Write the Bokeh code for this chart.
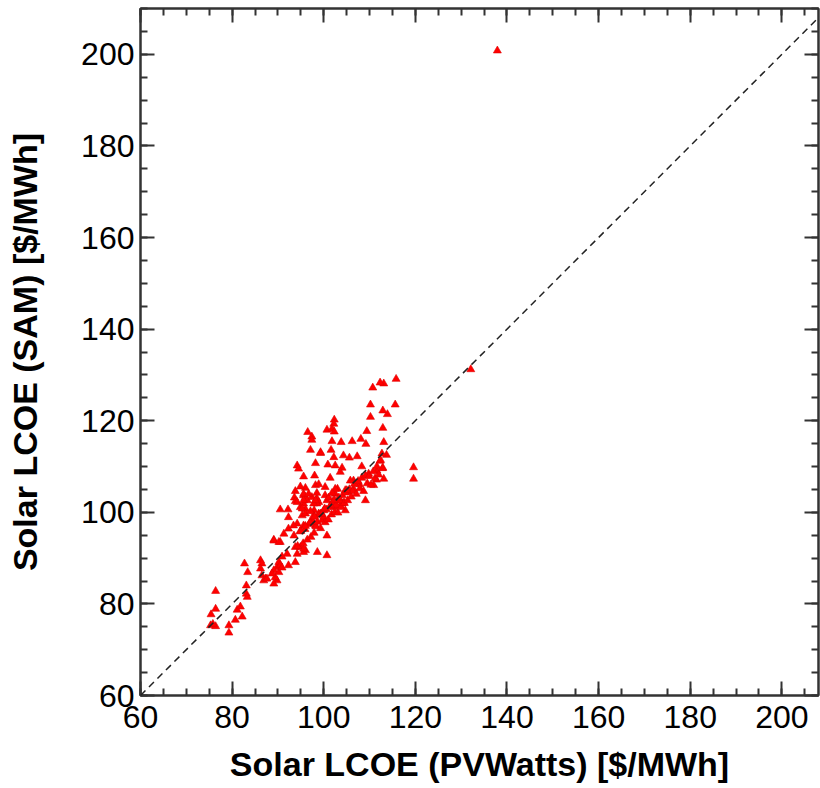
from bokeh.plotting import figure
from bokeh.models import Range1d, LinearAxis, FixedTicker, Slope
from bokeh.embed import file_html
from bokeh.resources import INLINE

# Solar LCOE estimates [$/MWh]: PVWatts (x) vs SAM (y)
pvwatts_lcoe = [
    115.8, 113.1, 112.3, 110.7, 115.6, 110.2, 112.9, 113.9, 110.2, 102.3,
    102.2, 100.7, 101.8, 96.5, 102.3, 109.4, 112.9, 97.4, 97.4, 101.8,
    103.8, 106.2, 108.1, 109.2, 113.1, 97.1, 99.3, 101.6, 104.3, 105.6,
    107.3, 102.2, 113.7, 112.7, 98.2, 100.9, 102.5, 104.0, 108.3, 112.3,
    112.9, 119.6, 119.6, 94.2, 94.5, 95.6, 98.0, 101.4, 103.6, 109.8,
    111.6, 113.1, 111.5, 110.9, 96.0, 94.9, 93.8, 98.2, 98.9, 100.3,
    106.5, 107.8, 105.8, 103.0, 105.1, 95.6, 93.6, 93.8, 96.0, 96.4,
    97.4, 98.5, 98.9, 100.3, 100.7, 102.5, 109.1, 98.5, 102.2, 104.0,
    90.5, 92.2, 94.9, 96.0, 94.2, 95.6, 97.8, 97.9, 92.3, 95.3,
    97.8, 99.3, 92.3, 94.2, 95.6, 91.3, 89.1, 90.5, 93.8, 94.9,
    96.0, 94.2, 95.6, 98.6, 100.7, 100.7, 92.0, 90.9, 93.8, 92.3,
    89.8, 89.1, 90.2, 86.2, 86.5, 86.2, 82.7, 83.4, 86.5, 86.9,
    87.3, 89.8, 83.1, 83.1, 83.3, 76.4, 76.4, 81.1, 81.8, 75.4,
    80.7, 82.2, 75.3, 76.4, 75.8, 79.3, 79.3, 87.6, 89.4, 90.2,
    88.7, 89.1, 89.1, 90.2, 90.5, 90.9, 95.6, 104.7, 106.5, 104.4,
    103.6, 104.7, 99.3, 102.5, 95.6, 96.7, 98.5, 101.1, 101.8, 95.6,
    98.2, 95.3, 96.0, 97.1, 98.9, 100.0, 93.4, 97.1, 98.2,
    93.5, 94.3, 94.8, 95.5, 95.9, 96.4, 96.8, 97.2, 97.6, 97.9,
    98.3, 98.6, 99.0, 99.3, 99.7, 100.0, 100.3, 100.6, 101.0, 101.3,
    101.7, 102.0, 102.4, 102.7, 103.1, 103.4, 103.8, 104.1, 104.5, 104.8,
    105.2, 105.6, 106.0, 106.3, 106.7, 107.1, 107.5, 107.9, 108.3, 108.7,
    109.1, 109.5, 109.9, 110.3, 110.8, 111.2, 111.6, 112.0, 112.4, 112.8,
    97.0, 99.5, 101.5, 103.3, 105.0, 95.0, 96.0, 98.0, 100.2, 102.3,
    137.9, 132.1,
]
sam_lcoe = [
    129.1, 128.1, 128.3, 127.2, 123.5, 123.5, 122.2, 121.4, 120.8, 120.2,
    119.3, 118.0, 118.2, 117.5, 117.6, 117.7, 118.4, 116.5, 115.8, 115.5,
    115.3, 115.5, 116.0, 114.9, 115.3, 113.6, 112.9, 113.6, 112.4, 111.9,
    112.2, 112.0, 112.5, 112.8, 110.7, 110.4, 110.2, 109.7, 110.0, 111.2,
    109.7, 109.8, 107.3, 110.2, 109.5, 107.8, 108.0, 107.5, 108.8, 108.4,
    109.1, 107.3, 107.1, 105.9, 105.3, 105.6, 104.6, 105.9, 106.1, 105.5,
    106.9, 106.1, 106.9, 105.1, 104.6, 103.7, 103.2, 102.4, 103.3, 102.6,
    103.3, 103.0, 102.2, 103.7, 102.6, 104.0, 102.6, 101.9, 101.1, 101.9,
    100.6, 100.6, 101.1, 100.7, 102.2, 101.9, 101.9, 100.4, 98.9, 99.3,
    99.3, 99.7, 96.4, 97.5, 97.1, 95.3, 94.0, 93.5, 92.4, 92.4,
    91.7, 90.9, 91.3, 91.3, 90.6, 94.9, 90.9, 90.3, 89.1, 88.4,
    88.0, 87.3, 89.1, 89.5, 88.8, 87.7, 88.8, 86.9, 86.2, 85.1,
    85.5, 85.1, 84.0, 82.2, 81.5, 82.8, 78.9, 78.7, 79.4, 77.7,
    76.5, 77.2, 75.3, 75.1, 75.6, 75.3, 73.7, 85.5, 85.8, 86.9,
    86.6, 84.4, 93.8, 93.5, 88.4, 87.9, 92.0, 104.8, 105.1, 102.1,
    101.4, 100.4, 113.1, 105.1, 104.0, 104.0, 104.2, 103.2, 104.2, 102.6,
    102.6, 100.8, 99.7, 100.2, 99.7, 100.4, 97.1, 97.8, 97.1,
    94.9, 92.6, 95.8, 93.2, 96.3, 94.0, 97.4, 94.6, 98.1, 95.5,
    96.9, 97.9, 99.4, 96.5, 98.3, 99.0, 97.8, 100.6, 98.4, 101.2,
    99.5, 102.3, 100.0, 101.6, 99.9, 102.5, 101.1, 103.7, 102.0, 104.3,
    102.6, 105.0, 103.4, 104.6, 106.2, 104.0, 106.8, 105.2, 107.5, 104.6,
    108.0, 106.3, 107.9, 106.0, 108.9, 107.4, 110.0, 108.2, 111.4, 109.6,
    97.8, 99.6, 101.5, 103.2, 104.8, 95.9, 97.0, 99.0, 100.8, 102.7,
    200.8, 131.2,
]

major_ticks = [60, 80, 100, 120, 140, 160, 180, 200]
minor_ticks = list(range(60, 211, 5))
x_label = "Solar LCOE (PVWatts) [$/MWh]"
y_label = "Solar LCOE (SAM) [$/MWh]"

FONT = "Liberation Sans"
AX_COLOR = "#333333"

p = figure(frame_width=678, frame_height=687,
           x_range=Range1d(60, 208), y_range=Range1d(60, 210),
           output_backend="svg", toolbar_location=None,
           x_axis_location=None, y_axis_location=None,
           min_border_left=140, min_border_right=2,
           min_border_top=8, min_border_bottom=93)
p.xgrid.visible = False
p.ygrid.visible = False
p.outline_line_color = AX_COLOR
p.outline_line_width = 2
p.background_fill_color = "white"
p.border_fill_color = "white"


def style(ax, labelled):
    ax.ticker = FixedTicker(ticks=major_ticks, minor_ticks=minor_ticks)
    ax.major_tick_in = 14
    ax.major_tick_out = 0
    ax.minor_tick_in = 7
    ax.minor_tick_out = 0
    ax.axis_line_color = AX_COLOR
    ax.axis_line_width = 2
    ax.major_tick_line_color = AX_COLOR
    ax.major_tick_line_width = 2
    ax.minor_tick_line_color = AX_COLOR
    ax.minor_tick_line_width = 2
    if labelled:
        ax.major_label_text_font = FONT
        ax.major_label_text_font_size = "32px"
        ax.major_label_text_color = "black"
        ax.axis_label_text_font = FONT
        ax.axis_label_text_font_size = "34px"
        ax.axis_label_text_font_style = "bold"
        ax.axis_label_text_color = "black"
    else:
        ax.major_label_text_color = None
        ax.major_label_text_alpha = 0
        ax.major_label_text_font_size = "1px"
        ax.major_label_standoff = 0


xb = LinearAxis(axis_label=x_label)
style(xb, True)
xb.major_label_standoff = 10
xb.axis_label_standoff = 14
p.add_layout(xb, "below")

yl = LinearAxis(axis_label=y_label)
style(yl, True)
yl.major_label_standoff = 6
yl.axis_label_standoff = 34
p.add_layout(yl, "left")

xt = LinearAxis()
style(xt, False)
p.add_layout(xt, "above")

yr = LinearAxis()
style(yr, False)
p.add_layout(yr, "right")

p.add_layout(Slope(gradient=1, y_intercept=0, line_color="#222222",
                   line_width=1.5, line_dash="7 5"))

p.scatter(pvwatts_lcoe, sam_lcoe, marker="triangle", size=8,
          fill_color="#ff0000", line_color="#e00000", line_width=0.6)

open("out.html", "w").write(file_html(p, INLINE))
